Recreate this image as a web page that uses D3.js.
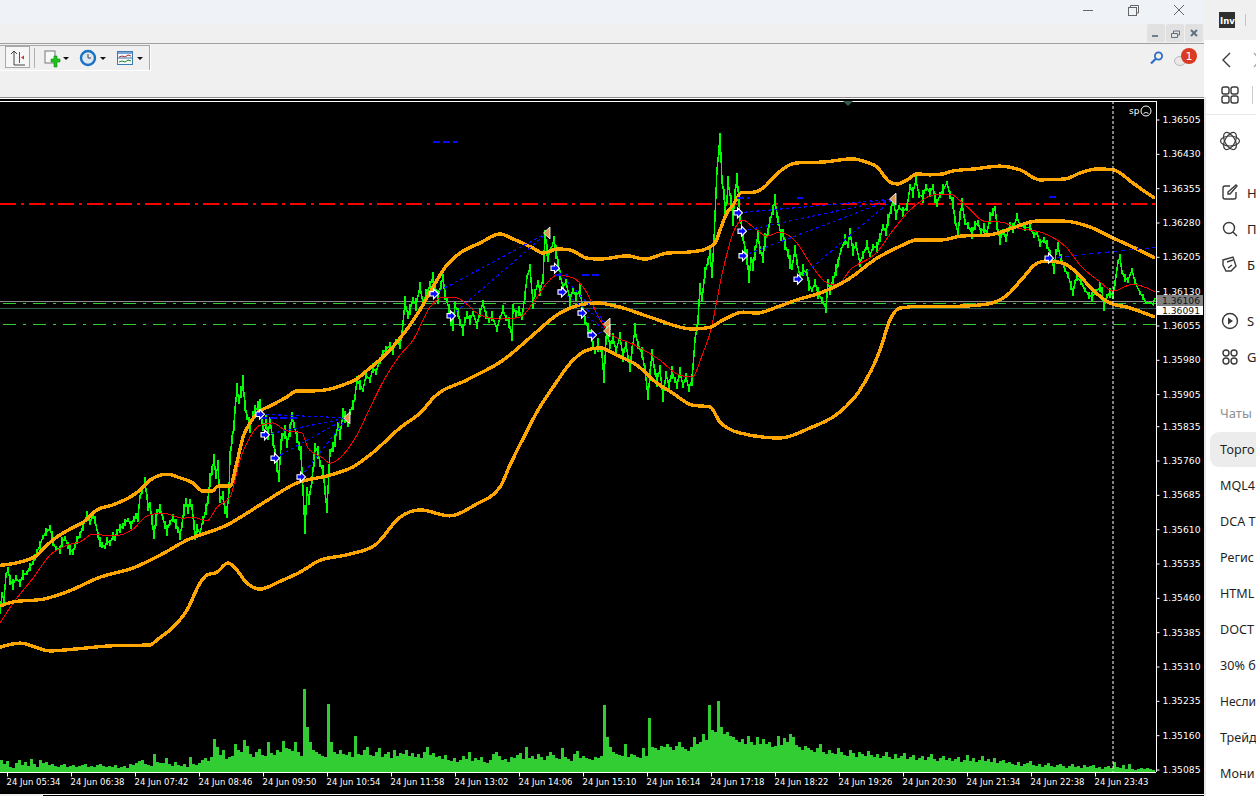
<!DOCTYPE html>
<html><head><meta charset="utf-8">
<script src="https://cdn.jsdelivr.net/npm/d3@7/dist/d3.min.js"></script>
<style>
html,body{margin:0;padding:0;background:#fff;overflow:hidden}
svg{display:block}
text{font-family:"DejaVu Sans",sans-serif}
</style></head><body><svg id="c" width="1256" height="796"></svg>
<script>
// prices are in points (1e-5); bars are minutes counted from 05:27
const priceTicks=[136505,136430,136355,136280,136205,136130,136055,135980,135905,135835,135760,135685,135610,135535,135460,135385,135310,135235,135160,135085];
const timeBars=[7,71,135,199,263,327,391,455,519,583,647,711,775,839,903,967,1031,1095];
const timeLabels=["24 Jun 05:34","24 Jun 06:38","24 Jun 07:42","24 Jun 08:46","24 Jun 09:50","24 Jun 10:54","24 Jun 11:58","24 Jun 13:02","24 Jun 14:06","24 Jun 15:10","24 Jun 16:14","24 Jun 17:18","24 Jun 18:22","24 Jun 19:26","24 Jun 20:30","24 Jun 21:34","24 Jun 22:38","24 Jun 23:43"];

const closeBars=[0,2,4,6,8,10,13,16,20,23,27,30,33,35,37,40,43,46,50,52,53,56,60,62,65,68,70,73,75,77,80,83,87,90,93,95,98,100,102,105,107,110,113,115,117,120,123,125,128,131,134,136,138,140,142,145,147,148,150,152,154,156,157,160,163,165,167,170,173,176,178,180,182,184,186,188,190,192,194,195,197,200,203,206,208,210,212,214,216,218,220,223,225,227,229,230,232,234,235,237,239,241,243,245,247,249,250,253,255,258,260,262,263,266,268,270,273,275,277,279,281,282,285,287,290,292,294,297,299,301,303,305,307,309,312,314,315,318,320,323,325,327,329,330,333,335,338,340,343,345,348,350,353,355,357,360,363,366,370,373,376,380,383,386,390,393,396,400,402,405,408,410,413,416,420,423,426,430,433,436,438,441,443,445,447,449,451,453,455,458,460,463,465,467,470,473,477,480,483,486,489,492,497,500,503,506,509,512,513,516,519,522,525,527,530,533,535,538,540,543,545,547,548,551,554,556,558,560,563,566,570,573,576,580,583,585,588,590,593,595,598,602,604,606,607,610,613,616,620,623,626,630,632,635,638,642,645,648,650,652,655,657,660,663,666,669,672,675,677,680,683,686,689,692,695,698,700,702,705,708,710,712,714,717,719,720,722,724,725,727,728,731,733,735,737,739,740,743,745,747,749,751,753,755,758,760,763,765,768,770,773,775,777,778,781,783,785,788,790,792,795,797,800,803,807,809,812,815,818,822,826,828,830,833,836,838,841,845,848,850,853,856,860,863,867,870,873,877,880,883,886,888,891,893,896,899,903,907,910,913,916,919,923,926,930,933,935,937,940,943,947,950,953,955,958,960,962,965,968,972,975,978,981,984,987,990,993,995,997,1000,1003,1006,1010,1013,1017,1020,1025,1030,1034,1037,1040,1044,1047,1050,1052,1054,1056,1058,1061,1065,1068,1071,1073,1075,1077,1081,1085,1089,1092,1096,1100,1102,1104,1107,1110,1113,1115,1118,1120,1122,1125,1128,1132,1135,1140,1143,1146,1150,1153,1155];
const closePts=[135432,135465,135454,135509,135520,135498,135487,135502,135491,135509,135513,135526,135535,135548,135559,135574,135592,135603,135611,135594,135579,135568,135563,135581,135589,135574,135565,135559,135572,135585,135596,135616,135640,135624,135638,135629,135596,135581,135574,135570,135583,135579,135594,135589,135603,135611,135616,135624,135629,135618,135631,135638,135635,135679,135694,135712,135679,135657,135662,135629,135596,135629,135646,135653,135633,135618,135607,135624,135633,135620,135607,135596,135618,135651,135668,135653,135666,135657,135618,135592,135611,135600,135629,135651,135673,135716,135738,135760,135727,135749,135673,135683,135651,135646,135694,135766,135804,135836,135869,135913,135891,135909,135928,135880,135854,135843,135832,135858,135869,135874,135884,135852,135832,135843,135815,135847,135804,135775,135749,135721,135793,135810,135821,135797,135825,135854,135836,135810,135790,135775,135694,135607,135694,135673,135716,135760,135788,135777,135753,135738,135694,135651,135738,135775,135788,135804,135836,135815,135863,135854,135841,135865,135880,135898,135935,135924,135913,135946,135935,135961,135952,135978,135996,136000,136011,136000,136018,136011,136037,136103,136077,136088,136110,136099,136138,136103,136120,136142,136158,136127,136116,136142,136158,136120,136110,136088,136061,136055,136099,136083,136061,136044,136066,136077,136066,136081,136055,136083,136103,136077,136066,136075,136048,136070,136088,136070,136061,136029,136094,136079,136086,136072,136120,136160,136179,136103,136125,136147,136131,136153,136256,136219,136203,136219,136241,136214,136190,136164,136138,136149,136110,136131,136118,136131,136088,136066,136048,136037,136011,136000,136011,135994,135935,136022,136037,136011,136026,136000,136029,135989,136011,135963,136000,136044,136011,135994,135957,135898,135946,135994,135952,135935,135957,135898,135946,135924,135952,135935,135924,135952,135924,135941,135917,135935,136022,136066,136138,136110,136169,136193,136212,136164,136241,136394,136437,136470,136372,136339,136306,136328,136367,136328,136291,136339,136378,136328,136291,136252,136219,136203,136158,136197,136186,136212,136252,136219,136203,136241,136258,136284,136306,136328,136295,136284,136252,136256,136230,136212,136193,136182,136219,136193,136160,136175,136169,136142,136131,136147,136125,136110,136092,136149,136131,136153,136175,136190,136219,136241,136230,136256,136219,136230,136190,136208,136230,136208,136225,136225,136247,136269,136258,136284,136306,136328,136295,136313,136302,136313,136356,136345,136372,136339,136335,136356,136345,136356,136332,136321,136339,136350,136365,136339,136321,136284,136256,136295,136321,136280,136273,136256,136273,136278,136258,136267,136256,136289,136302,136311,136273,136241,136258,136245,136273,136267,136291,136273,136267,136269,136252,136256,136234,136241,136230,136214,136197,136175,136214,136225,136201,136175,136164,136142,136125,136149,136160,136149,136131,136120,136116,136127,136138,136131,136094,136118,136125,136120,136147,136193,136203,136171,136158,136153,136175,136149,136125,136116,136103,136105,136099,136114];
const swingPts=[9,6,8,5,7,10,12,6,9,11,5,8,4,7,6,9,5,8,6,10,7,5,9,11,6,8,12,7,5,9,6,10,8,5,7,9,6,11,7,5,8,6,9,5,7,10,6,8,5,9,7,6,10,5,8,12,7,9,6,11,8,14,7,10,5,9,12,6,8,11,7,10,6,13,8,12,9,6,11,7,10,5,9,12,8,16,10,14,9,12,7,10,8,13,9,14,10,12,8,15,9,13,18,12,7,11,14,9,12,16,10,13,8,15,11,7,14,10,16,8,12,9,15,11,14,10,7,13,9,16,12,8,6,12,9,16,10,14,8,12,10,7,13,9,11,15,8,12,10,14,9,7,11,6,8,10,5,9,7,11,6,8,5,9,6,10,7,8,6,15,9,12,7,14,10,8,13,9,12,7,15,10,8,11,6,13,9,14,7,10,8,12,6,9,11,5,8,10,7,9,6,11,8,5,10,7,12,9,6,8,11,7,10,5,9,13,8,6,12,9,7,14,10,6,8,15,9,11,7,6,13,8,10,14,7,9,12,6,10,8,15,11,7,9,13,8,12,6,10,14,7,11,9,16,8,12,10,6,13,9,7,15,10,12,8,11,14,7,9,12,6,10,8,13,7,11,9,5,12,8,10,6,9,7,11,5,8,12,18,9,14,10,20,12,8,16,10,14,9,18,11,7,13,16,10,8,12,15,9,6,11,14,7,10,13,8,12,9,15,7,11,6,10,14,8,12,5,9,13,7,10,6,11,8,14,9,5,12,7,10,13,6,9,8,11,5,7,12,10,6,8,13,9,7,11,5,10,8,6,12,9,7,14,8,10,6,11,9,7,12,5,8,13,9,6,10,12,7,8,14,10,6,9,11,7,13,8,5,10,12,6,9,7,11,8,5,6,9,7,4,8,6,10,5,7,9,6,11,8,5,7,10,6,4,9,7,5,8,11,6,12,7,9,5,10,8,6,4,7,5,8,6,4,7,5,6];

const upperBars=[0,20,37,47,57,70,83,97,113,130,140,150,167,180,193,203,212,218,230,237,243,250,258,272,287,297,313,330,343,355,370,385,400,410,420,433,447,460,480,500,513,533,543,557,570,587,600,627,645,667,687,703,715,720,727,733,742,753,763,773,783,797,823,853,863,877,890,897,907,917,930,943,952,975,1000,1020,1040,1065,1080,1097,1113,1133,1147,1155];
const upperPts=[135530,135537,135552,135574,135592,135609,135624,135651,135662,135679,135694,135716,135729,135721,135710,135692,135692,135703,135703,135756,135810,135841,135863,135880,135898,135911,135911,135915,135924,135935,135961,135989,136026,136055,136088,136138,136186,136212,136234,136254,136243,136223,136212,136221,136219,136201,136199,136206,136199,136212,136214,136219,136234,136262,136300,136317,136345,136345,136354,136376,136396,136409,136411,136418,136413,136400,136367,136363,136372,136385,136383,136385,136391,136396,136402,136394,136372,136374,136387,136396,136394,136365,136343,136332];
const middleBars=[0,13,43,67,100,133,160,187,227,263,297,330,353,370,400,423,433,467,503,533,557,580,597,620,650,693,710,723,743,757,777,797,823,847,877,903,917,943,960,990,1010,1037,1063,1090,1113,1133,1155];
const middlePts=[135441,135450,135456,135472,135504,135524,135552,135585,135618,135666,135710,135727,135745,135771,135830,135869,135895,135935,135978,136033,136077,136099,136103,136094,136072,136046,136050,136066,136083,136081,136094,136110,136127,136153,136201,136230,136241,136241,136249,136252,136265,136282,136282,136269,136245,136225,136201];
const lowerBars=[0,20,50,75,110,150,157,173,187,200,207,217,228,235,247,260,280,300,320,345,375,400,420,450,475,500,510,525,538,553,573,587,600,617,637,657,673,692,710,720,740,780,810,840,860,880,890,900,923,960,988,1007,1023,1037,1047,1063,1077,1093,1110,1127,1155];
const lowerPts=[135351,135360,135343,135347,135354,135356,135367,135395,135432,135491,135509,135515,135535,135524,135491,135478,135495,135515,135541,135552,135574,135635,135651,135638,135662,135701,135749,135815,135869,135919,135978,136000,136005,135989,135967,135928,135906,135880,135876,135843,135819,135808,135830,135865,135913,136000,136066,136092,136096,136096,136101,136120,136158,136190,136195,136190,136169,136131,136103,136094,136072];
const maBars=[0,13,33,50,67,80,93,113,133,147,163,183,193,207,217,230,240,250,260,273,285,302,308,323,330,343,357,370,385,400,413,430,443,457,480,500,520,533,547,557,573,587,600,610,633,660,677,692,703,710,723,733,743,753,767,780,797,810,827,837,850,877,893,910,920,933,950,963,987,1000,1017,1043,1067,1080,1100,1113,1133,1155];
const maPts=[135404,135447,135502,135552,135574,135581,135598,135594,135609,135638,135644,135633,135635,135627,135657,135679,135760,135810,135836,135841,135825,135819,135786,135764,135753,135771,135815,135874,135939,135989,136022,136094,136116,136114,136077,136068,136072,136103,136147,136164,136158,136125,136066,136037,136013,135978,135948,135941,135994,136037,136175,136256,136284,136269,136249,136258,136234,136190,136147,136142,136175,136214,136262,136306,136324,136339,136341,136321,136280,136280,136267,136256,136223,136186,136149,136129,136144,136127];

// tick volume, one value per three-minute slot
const volumes=[12,8,11,5,4,9,12,7,10,6,13,8,5,12,9,10,7,8,6,5,7,8,5,6,7,5,6,7,8,5,6,5,7,8,6,5,6,5,7,4,5,6,4,8,7,
9,11,12,8,7,6,18,10,9,9,14,8,6,10,7,6,8,5,15,8,7,9,
12,14,11,15,33,25,17,22,13,15,16,28,22,20,32,26,18,15,20,23,17,16,30,19,17,22,20,31,24,23,21,30,20,16,
83,45,30,22,20,18,16,15,68,30,20,18,22,
18,17,20,15,36,18,17,22,25,17,16,20,24,15,18,20,14,22,16,19,
18,22,16,19,15,18,14,20,25,17,19,15,16,13,17,12,11,14,10,12,16,13,20,11,14,12,15,10,9,12,18,20,16,12,13,10,15,14,17,19,13,25,14,16,13,18,15,12,16,20,17,14,13,24,15,13,11,18,21,14,16,14,13,12,15,14,
16,67,35,25,20,18,17,16,28,15,18,17,15,14,24,16,54,25,24,22,26,25,28,25,22,26,30,25,23,21,
25,35,28,30,38,32,67,42,40,71,45,38,40,36,35,32,30,33,28,36,30,27,35,28,33,28,30,25,26,36,27,34,30,38,35,27,25,22,26,24,22,20,24,28,20,18,
22,19,18,24,20,17,16,22,19,15,20,18,16,21,17,15,18,14,16,20,15,13,18,14,16,19,13,15,17,12,14,16,12,15,18,13,11,14,16,12,14,11,13,15,10,12,17,11,14,10,12,16,11,13,10,14,9,11,
12,9,10,8,7,10,6,8,9,11,7,6,8,5,7,9,6,5,7,8,6,4,6,8,5,6,4,7,5,6,7,4,5,3,5,6,4,10,5,4,7,3,8,3,2,3,4,3,4,3,2];
const volumeSlotMinutes=3;

const entryBars=[260,265,275,301,434,451,555,562,582,592,738,742,743,798,1049];
const entryPts=[135860,135815,135764,135723,136123,136075,136179,136127,136081,136033,136300,136260,136206,136155,136201];
const exitBars=[347,547,607,607,893];
const exitPts=[135852,136256,136057,136042,136330];
const linkEntry=[0,1,2,3,4,5,6,7,8,9,10,11,12,13];
const linkExit=[0,0,0,0,1,1,2,2,3,3,4,4,4,4];
const openTailBar=[1049,1156], openTailPts=[136201,136225];
const dashBars=[[433,458],[737,750],[797,803],[1049,1056],[555,568],[582,600],[260,300]];
const dashPts=[136455,136332,136332,136335,136164,136164,135852];

const bidPrice=136106, askPrice=136091, resistance=136319, greenLevels=[136103,136055];
const cursorBar=1113;

const svg=d3.select("#c");
const rect=(x,y,w,h,f,g=svg)=>g.append("rect").attr("x",x).attr("y",y).attr("width",w).attr("height",h).attr("fill",f);
const txt=(x,y,s,size,f,g=svg)=>g.append("text").attr("x",x).attr("y",y).attr("font-size",size).attr("fill",f).text(s);
const ln=(x1,y1,x2,y2,c,w=1,g=svg)=>g.append("line").attr("x1",x1).attr("y1",y1).attr("x2",x2).attr("y2",y2).attr("stroke",c).attr("stroke-width",w);

// ---- window chrome
rect(0,0,1256,796,"#fff");
rect(0,0,1204,24,"#eff3f7");
rect(0,24,1204,74,"#f0f0f0");
ln(0,43.5,1204,43.5,"#a0a0a0");
ln(0,97.5,1204,97.5,"#8c8c8c");
ln(1083,10.5,1093,10.5,"#666");
svg.append("rect").attr("x",1128.5).attr("y",7.5).attr("width",8).attr("height",8).attr("fill","none").attr("stroke","#666");
svg.append("path").attr("d","M1130.5 7V5.5H1138.5V13H1137").attr("fill","none").attr("stroke","#666");
ln(1174,5,1184,15,"#666");ln(1184,5,1174,15,"#666");
[1147,1166,1185].forEach(x=>svg.append("rect").attr("x",x).attr("y",24).attr("width",18).attr("height",18).attr("rx",2).attr("fill","#e1e1e1"));
rect(1152,35,6,2,"#6f7f8f");
svg.append("path").attr("d","M1171.5 33.5h6v4h-6zM1173.5 33v-2h6v4h-2").attr("fill","none").attr("stroke","#5f7080");
svg.append("path").attr("d","M1191 30l6 6M1197 30l-6 6").attr("stroke","#5f7080").attr("stroke-width",2);
// toolbar
ln(150.5,45,150.5,71,"#fff");ln(0,70.5,150,70.5,"#fff");ln(0,45.5,150,45.5,"#a8a8a8");ln(149.5,45,149.5,70,"#a8a8a8");
svg.append("rect").attr("x",5.5).attr("y",46.5).attr("width",24).attr("height",21).attr("fill","#f7f7f7").attr("stroke","#a8a8a8");
svg.append("path").attr("d","M14 51V65H25M11 54L14 51L17 54").attr("fill","none").attr("stroke","#444");
ln(19.5,52,19.5,63,"#23639c");svg.append("path").attr("d","M21 57.5l3-2v4z").attr("fill","#c33");
ln(34.5,48,34.5,68,"#b0b0b0");
svg.append("rect").attr("x",45).attr("y",51).attr("width",10).attr("height",12).attr("fill","#f8f8f8").attr("stroke","#777");
svg.append("path").attr("d","M51 59h3v-3h3v3h3v3h-3v5h-3v-5h-3z").attr("fill","#1fc11f").attr("stroke","#0c8f0c").attr("stroke-width",.6);
[66,103,140].forEach(x=>svg.append("path").attr("d",`M${x-3} 57h6l-3 3z`).attr("fill","#111"));
svg.append("circle").attr("cx",88).attr("cy",58).attr("r",7).attr("fill","#dde8f0").attr("stroke","#1a72c4").attr("stroke-width",2.4);
svg.append("path").attr("d","M88 54v4h3").attr("fill","none").attr("stroke","#444");
svg.append("rect").attr("x",117.5).attr("y",51.5).attr("width",15).attr("height",13).attr("fill","#f4f8fc").attr("stroke","#3d78b0");
rect(118,52,14,2,"#7ba7d2");ln(118,58,132,58,"#3d78b0");
svg.append("path").attr("d","M119 57l3-1 3 1 3-2 3 1").attr("fill","none").attr("stroke","#a33");
svg.append("path").attr("d","M119 62l3-1 3 1 3-2 3 1").attr("fill","none").attr("stroke","#282");
// search + notification
svg.append("circle").attr("cx",1158.5).attr("cy",56).attr("r",3.6).attr("fill","none").attr("stroke","#2b6cc4").attr("stroke-width",1.8);
ln(1155.5,59,1151,63.5,"#2b6cc4",2.2);
svg.append("ellipse").attr("cx",1180).attr("cy",61).attr("rx",5.5).attr("ry",4.5).attr("fill","#e8e8e8").attr("stroke","#bbb");
svg.append("circle").attr("cx",1189).attr("cy",56).attr("r",8).attr("fill","#d93a20");
txt(1189,60,"1",11,"#fff").attr("text-anchor","middle");

// ---- sidebar
rect(1204,0,52,40,"#f0f0f0");
rect(1219,12,16,16,"#2f2f2f");
txt(1220,24,"Inv",8.5,"#fff").attr("font-weight","bold");
rect(1245,14,1,12,"#c4c4c4");
const ic="#3a3a3a";
const sb=svg.append("g").attr("fill","none").attr("stroke",ic).attr("stroke-width",1.4);
sb.append("path").attr("d","M1230 53l-7 7 7 7");
sb.append("path").attr("d","M1254 53l6 7-6 7").attr("stroke","#aaa");
[[1222,87],[1231,87],[1222,96],[1231,96]].forEach(p=>sb.append("rect").attr("x",p[0]).attr("y",p[1]).attr("width",7).attr("height",7).attr("rx",2));
ln(1252.5,86,1252.5,104,"#ccc");ln(1204,114.5,1256,114.5,"#e8e8e8");
[0,60,120].forEach(a=>sb.append("ellipse").attr("cx",1230).attr("cy",141).attr("rx",9.5).attr("ry",5).attr("transform",`rotate(${a} 1230 141)`).attr("stroke-width",1.2));
sb.append("path").attr("d","M1230 186h-5a2 2 0 0 0-2 2v9a2 2 0 0 0 2 2h9a2 2 0 0 0 2-2v-5M1228 192l8-7 1 1-7 8h-2z");
sb.append("circle").attr("cx",1229).attr("cy",228).attr("r",5.5);
sb.append("path").attr("d","M1233 232l4 4");
sb.append("path").attr("d","M1223 260l10-3 3 9-5 5h-5l-3-6zM1227 262l6-2M1228 268l4-3");
sb.append("circle").attr("cx",1230).attr("cy",321).attr("r",7.5);
svg.append("path").attr("d","M1228 317.5l5 3.5-5 3.5z").attr("fill",ic);
[[1226,353],[1234,353],[1226,361],[1234,361]].forEach(p=>sb.append("circle").attr("cx",p[0]).attr("cy",p[1]).attr("r",3));
svg.append("rect").attr("x",1210).attr("y",432).attr("width",60).attr("height",35).attr("rx",9).attr("fill","#ececec");
const navFont=`"Noto Sans",sans-serif`;
[["Н",198],["П",234],["Б",270],["S",326],["G",362]].forEach(d=>txt(1247,d[1],d[0],13,"#222").style("font-family",navFont));
txt(1220,418,"Чаты",13,"#8f8f8f").style("font-family",navFont);
[["Торго",454],["MQL4",490],["DCA T",526],["Регис",562],["HTML",598],["DOCT",634],["30% б",670],["Несли",706],["Трейд",742],["Мони",778]]
 .forEach(d=>txt(1220,d[1],d[0],d[0]==="Несли"?12:12.6,"#1f1f1f").style("font-family",navFont));

// ---- chart
rect(0,99,1204,697,"#000");
rect(1204,97,2,699,"#e8e8e8");
rect(0,794,43,2,"#f0f0f0");ln(43,794.5,1204,794.5,"#fff");

const x=d3.scaleLinear().domain([0,1156]).range([0,1156]);
const y=d3.scaleLinear().domain([135085,136505]).range([769,119]);
const v=d3.scaleLinear().domain([0,83]).range([771.5,688.5]);
const g=svg.append("g");

// volume
g.append("g").attr("shape-rendering","crispEdges").selectAll("rect").data(volumes).join("rect")
 .attr("x",(d,i)=>x(i*volumeSlotMinutes)).attr("width",x(volumeSlotMinutes)-x(0))
 .attr("y",d=>v(d)).attr("height",d=>v(0)-v(d)).attr("fill","#32cd32");

// horizontal levels
ln(0,y(resistance),1156,y(resistance),"#ff0000",1.4,g).attr("stroke-dasharray","16 5 3 5").attr("shape-rendering","crispEdges");
greenLevels.forEach(l=>ln(3,y(l),1156,y(l),"#32cd32",1,g).attr("stroke-dasharray","13 7 3 7").attr("shape-rendering","crispEdges"));
ln(0,y(bidPrice),1156,y(bidPrice),"#8a8a8a",1,g).attr("shape-rendering","crispEdges");
ln(0,y(askPrice),1156,y(askPrice),"#2f5a50",1,g).attr("shape-rendering","crispEdges");

// lines
const line=d3.line().x(d=>x(d[0])).y(d=>y(d[1]));
const zip=(a,b)=>a.map((d,i)=>[d,b[i]]);
g.append("g").attr("shape-rendering","crispEdges").selectAll("line").data(closeBars).join("line")
 .attr("x1",d=>x(d)).attr("x2",d=>x(d))
 .attr("y1",(d,i)=>y(closePts[i]+(swingPts[i]||0))).attr("y2",(d,i)=>y(closePts[i]-(swingPts[i]||0)))
 .attr("stroke","#00ff00").attr("stroke-width",2);
g.append("path").attr("d",line(zip(closeBars,closePts))).attr("fill","none").attr("stroke","#00ff00").attr("stroke-width",1.5).attr("shape-rendering","crispEdges");
const smooth=d3.line().x(d=>x(d[0])).y(d=>y(d[1])).curve(d3.curveMonotoneX);
g.append("path").attr("d",smooth(zip(maBars,maPts))).attr("fill","none").attr("stroke","#ff0000").attr("stroke-width",1).attr("shape-rendering","crispEdges");
[[upperBars,upperPts],[middleBars,middlePts],[lowerBars,lowerPts]].forEach(s=>
 g.append("path").attr("d",smooth(zip(s[0],s[1]))).attr("fill","none").attr("stroke","#ffa500").attr("stroke-width",3.4).attr("shape-rendering","crispEdges"));

// trade links
linkEntry.forEach((e,i)=>{const t=linkExit[i];
 ln(x(entryBars[e]),y(entryPts[e]),x(exitBars[t]),y(exitPts[t]),"#0a0aff",1.2,g).attr("stroke-dasharray","3 3").attr("shape-rendering","crispEdges");});
ln(x(openTailBar[0]),y(openTailPts[0]),x(openTailBar[1]),y(openTailPts[1]),"#0a0aff",1.2,g).attr("stroke-dasharray","4 4").attr("shape-rendering","crispEdges");
dashBars.forEach((b,i)=>ln(x(b[0]),y(dashPts[i]),x(b[1]),y(dashPts[i]),"#0a0aff",1.4,g).attr("stroke-dasharray","7 3").attr("shape-rendering","crispEdges"));

// markers
g.append("g").selectAll("path").data(entryBars).join("path")
 .attr("transform",(d,i)=>`translate(${x(d)},${y(entryPts[i])})`)
 .attr("d","M-4 -2.2H-0.5V-5L4.5 0L-0.5 5V2.2H-4Z").attr("fill","#0a0aff").attr("stroke","#fff").attr("stroke-width",1.1);
g.append("g").selectAll("path").data(exitBars).join("path")
 .attr("transform",(d,i)=>`translate(${x(d)},${y(exitPts[i])})`)
 .attr("d","M-3.5 0L3 -6V6Z").attr("fill","#d89a50").attr("stroke","#fff").attr("stroke-width",.8);

// cursor
ln(x(cursorBar),101,x(cursorBar),772,"#fff",1,g).attr("stroke-dasharray","3 2");

// axes frame
ln(0,101.5,1156,101.5,"#fff",1,g);
svg.append("path").attr("d","M843 101h10l-5 5z").attr("fill","#2f5a50");
const yAxis=d3.axisRight(y).tickValues(priceTicks).tickSize(3).tickPadding(3).tickFormat(d=>(d/1e5).toFixed(5));
const ya=g.append("g").attr("transform","translate(1156.5,0.5)").call(yAxis);
ya.select(".domain").remove();
ya.selectAll("line").attr("stroke","#fff");
ya.selectAll("text").attr("fill","#fff").attr("font-size",9.2).style("font-family",'"DejaVu Sans"');
ln(1156.5,101,1156.5,772,"#fff",1,g);
const xAxis=d3.axisBottom(x).tickValues(timeBars).tickSize(4).tickPadding(2).tickFormat((d,i)=>timeLabels[i]);
const xa=g.append("g").attr("transform","translate(0,772.5)").call(xAxis);
xa.select(".domain").remove();
xa.selectAll("line").attr("stroke","#fff");
xa.selectAll("text").attr("fill","#fff").attr("font-size",8.5).attr("text-anchor","start").attr("dx",-1).style("font-family",'"DejaVu Sans"');
ln(0,772.5,1156,772.5,"#fff",1,g);

// price tags
rect(1157,295,46,11,"#808080",g);
txt(1162,304,(bidPrice/1e5).toFixed(5),9.2,"#111",g);
rect(1157,306,46,9,"#fff",g);
txt(1162,313.5,(askPrice/1e5).toFixed(5),9.2,"#111",g);

// corner status
txt(1129,114,"sp",9,"#fff",g);
g.append("circle").attr("cx",1146).attr("cy",111).attr("r",5).attr("fill","none").attr("stroke","#fff");
g.append("path").attr("d","M1143.5 114c1-2 4-2 5 0M1144 109.5h.1M1148 109.5h.1").attr("fill","none").attr("stroke","#fff");
</script></body></html>
